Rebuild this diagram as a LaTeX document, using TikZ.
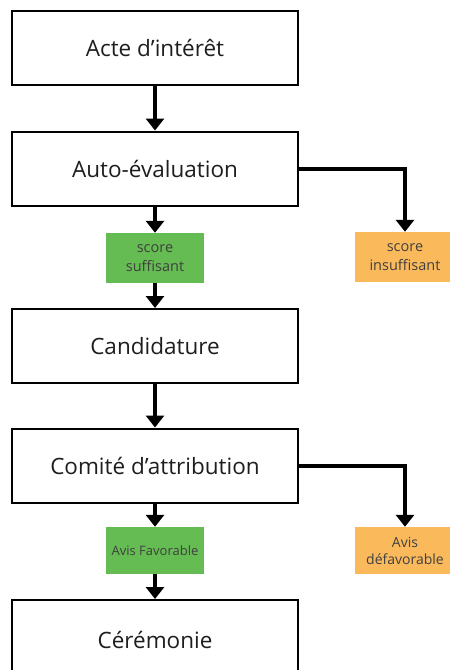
\documentclass[tikz,border=0pt]{standalone}
\usepackage{fontspec}
\setmainfont{Open Sans}
\usetikzlibrary{arrows.meta}
\definecolor{okgreen}{RGB}{100,188,82}
\definecolor{kogold}{RGB}{250,186,92}
\definecolor{txt}{RGB}{30,30,30}
\tikzset{
  mainbox/.style={draw=black, line width=2pt, fill=white, minimum width=286pt, minimum height=74pt, inner sep=0pt, text=txt, font=\fontsize{22.5}{27}\selectfont},
  okbox/.style={fill=okgreen, minimum width=98pt, inner sep=0pt, align=center, text=txt!85},
  kobox/.style={fill=kogold, minimum width=100pt, inner sep=0pt, align=center, text=txt!85},
  flow/.style={line width=4pt, -{Triangle[width=18pt,length=12pt]}}
}
\begin{document}
\begin{tikzpicture}[x=1pt,y=-1pt]
\useasboundingbox (0,0) rectangle (450,670);
\clip (0,0) rectangle (450,670);
\fill[white] (0,0) rectangle (450,670);
\node[mainbox] (b1) at (155,48) {Acte d’intérêt};
\node[mainbox] (b2) at (155,168.5) {Auto-évaluation};
\node[okbox, minimum height=50pt, font=\fontsize{14.5}{19}\selectfont] (g1) at (155,258) {score\\suffisant};
\node[kobox, minimum height=50pt, font=\fontsize{14.5}{19}\selectfont] (o1) at (405,257) {score\\insuffisant};
\node[mainbox] (b3) at (155,346) {Candidature};
\node[mainbox] (b4) at (155,465.5) {Comité d’attribution};
\node[okbox, minimum height=47pt, font=\fontsize{13}{17}\selectfont] (g2) at (155,550.5) {Avis Favorable};
\node[kobox, minimum height=47pt, font=\fontsize{14}{17}\selectfont] (o2) at (405,550.5) {Avis\\défavorable};
\node[mainbox, minimum height=80pt] (b5) at (155,640) {Cérémonie};
\draw[flow] (b1) -- (b2);
\draw[flow] (b2) -- (g1);
\draw[flow] (b2.east) -| (o1.north);
\draw[flow] (g1) -- (b3);
\draw[flow] (b3) -- (b4);
\draw[flow] (b4) -- (g2);
\draw[flow] (b4.east) -| (o2.north);
\draw[flow] (g2) -- (b5);
\end{tikzpicture}
\end{document}
